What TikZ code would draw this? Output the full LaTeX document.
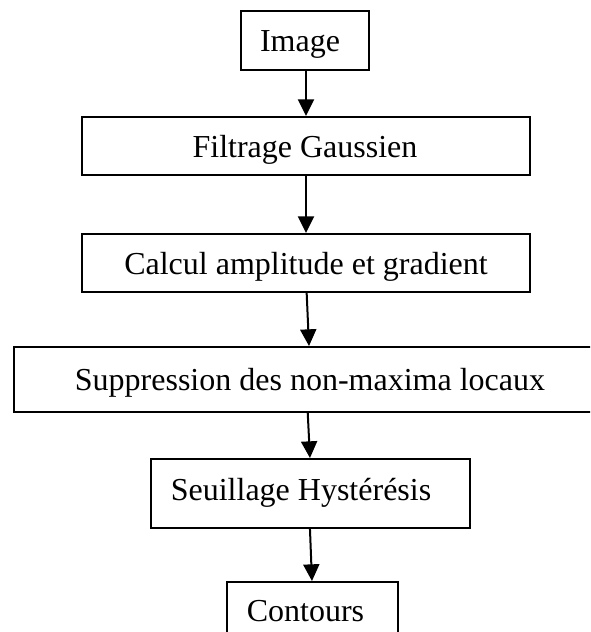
\documentclass[tikz,border=0pt]{standalone}
\usepackage{fontspec}
\setmainfont{Liberation Serif}
\usetikzlibrary{arrows.meta}
\tikzset{
  stepbox/.style={draw=black, line width=1.5pt, rectangle, inner sep=0pt},
  txt/.style={inner sep=0pt, anchor=base, font=\fontsize{24}{28}\selectfont},
  arr/.style={line width=1.5pt, -{Triangle[length=12.5pt,width=12pt]}}
}
\begin{document}
\begin{tikzpicture}[x=0.75pt,y=-0.75pt]
\useasboundingbox (0,0) rectangle (590,632);
\clip (0,0) rectangle (590,632);
\fill[white] (0,0) rectangle (590,632);
\node[stepbox, minimum width=128*0.75pt, minimum height=59*0.75pt] (b1) at (305,40.5) {};
\node[stepbox, minimum width=448*0.75pt, minimum height=58*0.75pt] (b2) at (306,146) {};
\node[stepbox, minimum width=448*0.75pt, minimum height=58*0.75pt] (b3) at (306,263) {};
\node[stepbox, minimum width=596*0.75pt, minimum height=65*0.75pt] (b4) at (312,379.5) {};
\node[stepbox, minimum width=319*0.75pt, minimum height=69*0.75pt] (b5) at (310.5,493.5) {};
\node[stepbox, minimum width=171*0.75pt, minimum height=70*0.75pt] (b6) at (312.5,617) {};
\node[txt] (t1) at ([xshift=-3.75pt,yshift=-8.6pt]b1.center) {Image};
\node[txt] (t2) at ([xshift=-0.75pt,yshift=-8.25pt]b2.center) {Filtrage Gaussien};
\node[txt] (t3) at ([yshift=-8.25pt]b3.center) {Calcul amplitude et gradient};
\node[txt] (t4) at ([xshift=-1.5pt,yshift=-8.25pt]b4.center) {Suppression des non-maxima locaux};
\node[txt] (t5) at ([xshift=-7.1pt,yshift=-5.6pt]b5.center) {Seuillage Hystérésis};
\node[txt] (t6) at ([xshift=-5.25pt,yshift=-3pt]b6.center) {Contours};
\draw[arr] ([xshift=0.75pt]b1.south) -- (b2.north);
\draw[arr] (b2.south) -- (b3.north);
\draw[arr] ([xshift=0.5pt]b3.south) -- ([xshift=-2.25pt]b4.north);
\draw[arr] ([xshift=-3.2pt]b4.south) -- ([xshift=-0.4pt]b5.north);
\draw[arr] ([xshift=-0.4pt]b5.south) -- ([xshift=-0.4pt]b6.north);
\end{tikzpicture}
\end{document}
